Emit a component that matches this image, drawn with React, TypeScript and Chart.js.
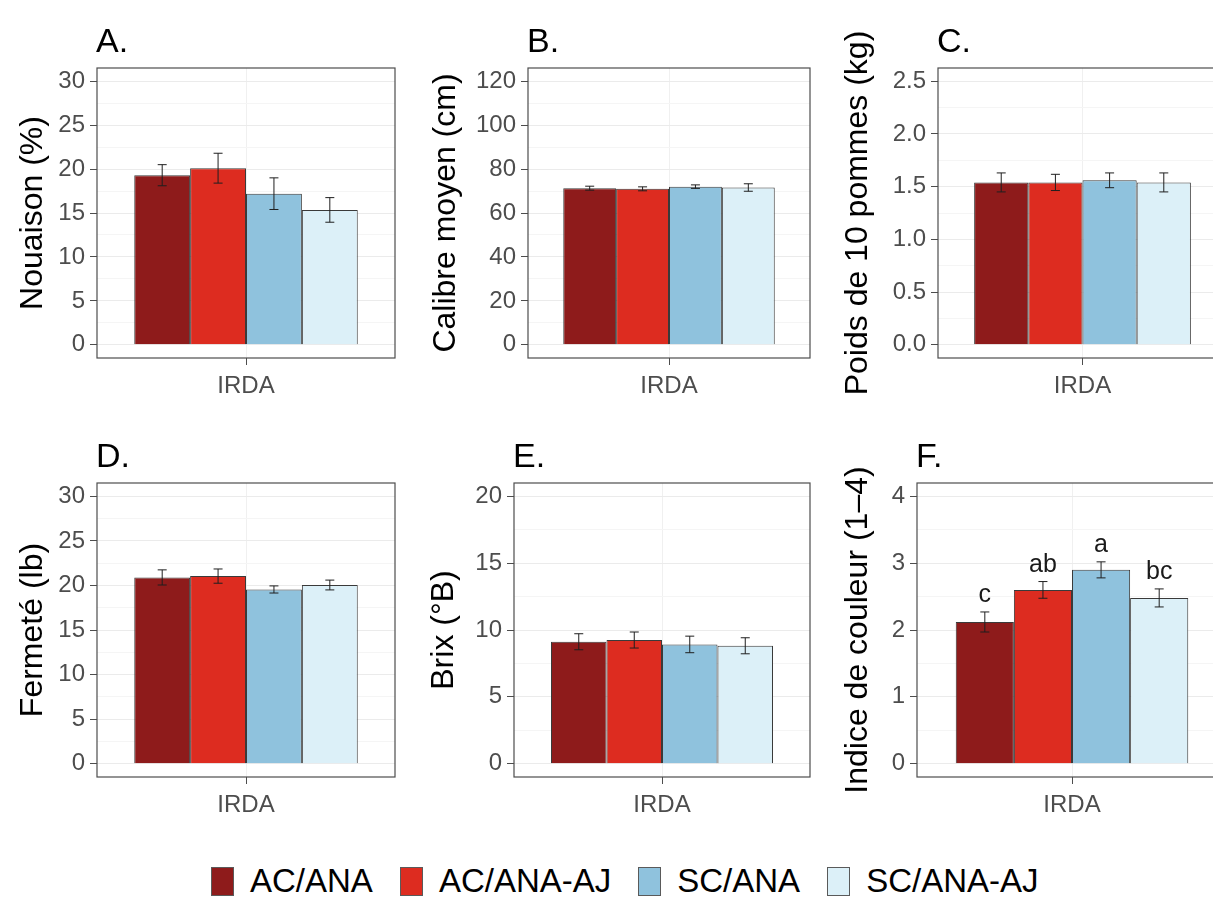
import React, { useEffect, useRef } from "react";
import { Chart, registerables } from "chart.js";

Chart.register(...registerables);

// ---------- data ----------
const categories = ["IRDA"];
const seriesNames = ["AC/ANA", "AC/ANA-AJ", "SC/ANA", "SC/ANA-AJ"];
const seriesColors = ["#8e1b1b", "#dd2c20", "#8fc2dd", "#dcf0f8"];

const nouaison = [19.3, 20.1, 17.2, 15.35];
const nouaisonErr = [1.2, 1.7, 1.8, 1.4];
const nouaisonTicks = [0, 5, 10, 15, 20, 25, 30];
const nouaisonTickLabels = ["0", "5", "10", "15", "20", "25", "30"];

const calibre = [71.3, 71.0, 72.0, 71.6];
const calibreErr = [0.9, 0.9, 0.8, 1.7];
const calibreTicks = [0, 20, 40, 60, 80, 100, 120];
const calibreTickLabels = ["0", "20", "40", "60", "80", "100", "120"];

const poids = [1.54, 1.54, 1.56, 1.54];
const poidsErr = [0.09, 0.077, 0.07, 0.09];
const poidsTicks = [0, 0.5, 1, 1.5, 2, 2.5];
const poidsTickLabels = ["0.0", "0.5", "1.0", "1.5", "2.0", "2.5"];

const fermete = [20.9, 21.05, 19.55, 20.05];
const fermeteErr = [0.85, 0.8, 0.4, 0.55];
const fermeteTicks = [0, 5, 10, 15, 20, 25, 30];
const fermeteTickLabels = ["0", "5", "10", "15", "20", "25", "30"];

const brix = [9.12, 9.25, 8.92, 8.82];
const brixErr = [0.6, 0.6, 0.62, 0.6];
const brixTicks = [0, 5, 10, 15, 20];
const brixTickLabels = ["0", "5", "10", "15", "20"];

const couleur = [2.12, 2.6, 2.9, 2.48];
const couleurErr = [0.15, 0.125, 0.12, 0.135];
const couleurTicks = [0, 1, 2, 3, 4];
const couleurTickLabels = ["0", "1", "2", "3", "4"];
const couleurLetters = ["c", "ab", "a", "bc"];

// ---------- layout ----------
const FONT = "'Liberation Sans', Arial, Helvetica, sans-serif";

const panels = [
  { tag: "A.", yTitle: "Nouaison (%)", values: nouaison, errors: nouaisonErr, ticks: nouaisonTicks, tickLabels: nouaisonTickLabels, letters: null,
    left: 0, top: 0, w: 400, h: 410, boxL: 97, boxR: 395, boxT: 68, boxB: 358, titleBase: 42 },
  { tag: "B.", yTitle: "Calibre moyen (cm)", values: calibre, errors: calibreErr, ticks: calibreTicks, tickLabels: calibreTickLabels, letters: null,
    left: 400, top: 0, w: 415, h: 410, boxL: 528, boxR: 810, boxT: 68, boxB: 358, titleBase: 455 },
  { tag: "C.", yTitle: "Poids de 10 pommes (kg)", values: poids, errors: poidsErr, ticks: poidsTicks, tickLabels: poidsTickLabels, letters: null,
    left: 815, top: 0, w: 425, h: 410, boxL: 938, boxR: 1227, boxT: 68, boxB: 358, titleBase: 867 },
  { tag: "D.", yTitle: "Fermeté (lb)", values: fermete, errors: fermeteErr, ticks: fermeteTicks, tickLabels: fermeteTickLabels, letters: null,
    left: 0, top: 410, w: 400, h: 430, boxL: 97, boxR: 395, boxT: 483, boxB: 777, titleBase: 42 },
  { tag: "E.", yTitle: "Brix (°B)", values: brix, errors: brixErr, ticks: brixTicks, tickLabels: brixTickLabels, letters: null,
    left: 400, top: 410, w: 415, h: 430, boxL: 514, boxR: 810, boxT: 483, boxB: 777, titleBase: 453 },
  { tag: "F.", yTitle: "Indice de couleur (1–4)", values: couleur, errors: couleurErr, ticks: couleurTicks, tickLabels: couleurTickLabels, letters: couleurLetters,
    left: 815, top: 410, w: 425, h: 430, boxL: 917, boxR: 1227, boxT: 483, boxB: 777, titleBase: 867 },
];

function makeDecor(p: any) {
  return {
    id: "decor",
    afterDatasetsDraw(chart: any) {
      const ctx = chart.ctx;
      const y = chart.scales.y;
      ctx.save();
      ctx.strokeStyle = "#1f1f1f";
      ctx.lineWidth = 1;
      chart.data.datasets.forEach((_ds: any, i: number) => {
        const bar = chart.getDatasetMeta(i).data[0];
        const v = p.values[i];
        const e = p.errors[i];
        const yHi = y.getPixelForValue(v + e);
        const yLo = y.getPixelForValue(v - e);
        const cx = bar.x;
        const hw = 4.5;
        ctx.beginPath();
        ctx.moveTo(cx, yHi);
        ctx.lineTo(cx, yLo);
        ctx.moveTo(cx - hw, yHi);
        ctx.lineTo(cx + hw, yHi);
        ctx.moveTo(cx - hw, yLo);
        ctx.lineTo(cx + hw, yLo);
        ctx.stroke();
        if (p.letters) {
          ctx.fillStyle = "#1a1a1a";
          ctx.font = `25px ${FONT}`;
          ctx.textAlign = "center";
          ctx.textBaseline = "alphabetic";
          ctx.fillText(p.letters[i], cx, yHi - 10);
        }
      });
      ctx.restore();
    },
    afterDraw(chart: any) {
      const ctx = chart.ctx;
      const a = chart.chartArea;
      ctx.save();
      // panel border
      ctx.strokeStyle = "#4d4d4d";
      ctx.lineWidth = 1.2;
      ctx.strokeRect(a.left, a.top, a.right - a.left, a.bottom - a.top);
      // tag
      ctx.fillStyle = "#000";
      ctx.font = `34px ${FONT}`;
      ctx.textAlign = "left";
      ctx.textBaseline = "alphabetic";
      ctx.fillText(p.tag, a.left - 1, a.top - 16);
      // y title
      ctx.translate(p.titleBase - p.left, (a.top + a.bottom) / 2);
      ctx.rotate(-Math.PI / 2);
      ctx.textAlign = "center";
      ctx.textBaseline = "alphabetic";
      ctx.font = `32px ${FONT}`;
      ctx.fillText(p.yTitle, 0, 0);
      ctx.restore();
    },
  };
}

function buildConfig(p: any): any {
  const top = p.ticks[p.ticks.length - 1];
  const step = p.ticks[1] - p.ticks[0];
  const minors = p.ticks.slice(0, -1).map((t: number) => t + step / 2);
  const allTicks = [...p.ticks, ...minors];
  const isMajor = (v: number) => p.ticks.indexOf(v) >= 0;
  return {
    type: "bar",
    data: {
      labels: categories,
      datasets: seriesNames.map((name, i) => ({
        label: name,
        data: [p.values[i]],
        backgroundColor: seriesColors[i],
        borderColor: "#3a3a3a",
        borderWidth: 1,
        categoryPercentage: 0.75,
        barPercentage: 1.0,
      })),
    },
    options: {
      animation: false,
      responsive: false,
      devicePixelRatio: 1,
      events: [],
      layout: {
        padding: { left: 0, top: p.boxT - p.top, right: p.left + p.w - p.boxR, bottom: 0 },
      },
      plugins: { legend: { display: false }, tooltip: { enabled: false }, title: { display: false } },
      scales: {
        x: {
          type: "category",
          offset: true,
          border: { display: false },
          grid: {
            offset: false,
            color: "#f0f0f0",
            lineWidth: 1,
            drawTicks: true,
            tickLength: 7,
            tickColor: "#4d4d4d",
          },
          ticks: { color: "#4d4d4d", font: { family: FONT, size: 24 }, padding: 7 },
          afterFit: (s: any) => {
            s.height = p.top + p.h - p.boxB;
          },
        },
        y: {
          type: "linear",
          min: -0.05 * top,
          max: 1.05 * top,
          border: { display: false },
          afterBuildTicks: (axis: any) => {
            axis.ticks = allTicks.map((v: number) => ({ value: v }));
          },
          grid: {
            color: (c: any) => (c.tick && isMajor(c.tick.value) ? "#ebebeb" : "#f5f5f5"),
            lineWidth: 1,
            drawTicks: true,
            tickLength: 7,
            tickColor: (c: any) => (c.tick && isMajor(c.tick.value) ? "#4d4d4d" : "rgba(0,0,0,0)"),
          },
          ticks: {
            autoSkip: false,
            color: "#4d4d4d",
            font: { family: FONT, size: 24 },
            padding: 5,
            callback: (v: number) => {
              const idx = p.ticks.indexOf(v);
              return idx >= 0 ? p.tickLabels[idx] : "";
            },
          },
          afterFit: (s: any) => {
            s.width = p.boxL - p.left;
          },
        },
      },
    },
    plugins: [makeDecor(p)],
  };
}

function Panel({ p }: { p: any }) {
  const ref = useRef<HTMLCanvasElement | null>(null);
  useEffect(() => {
    if (!ref.current) return;
    const chart = new Chart(ref.current, buildConfig(p));
    return () => chart.destroy();
  }, [p]);
  return (
    <canvas
      ref={ref}
      width={p.w}
      height={p.h}
      style={{ position: "absolute", left: p.left, top: p.top, width: p.w, height: p.h }}
    />
  );
}

function Legend() {
  return (
    <div
      style={{
        position: "absolute",
        left: 211,
        top: 866,
        display: "flex",
        alignItems: "center",
        fontFamily: FONT,
        fontSize: 33,
        lineHeight: "30px",
        color: "#000",
        whiteSpace: "nowrap",
      }}
    >
      {seriesNames.map((name, i) => (
        <div key={name} style={{ display: "flex", alignItems: "center", marginRight: i < seriesNames.length - 1 ? 27 : 0 }}>
          <div
            style={{
              width: 23,
              height: 29,
              boxSizing: "border-box",
              background: seriesColors[i],
              border: "1px solid #5a5a5a",
              marginRight: 16,
            }}
          />
          <span>{name}</span>
        </div>
      ))}
    </div>
  );
}

export default function App() {
  return (
    <div
      style={{
        position: "absolute",
        left: 0,
        top: 0,
        width: 1213,
        height: 899,
        overflow: "hidden",
        background: "#fff",
      }}
    >
      {panels.map((p) => (
        <Panel key={p.tag} p={p} />
      ))}
      <Legend />
    </div>
  );
}
